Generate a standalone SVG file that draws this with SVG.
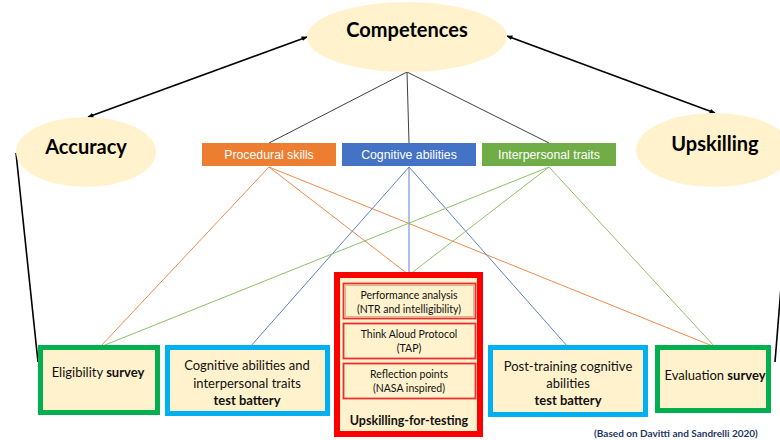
<svg xmlns="http://www.w3.org/2000/svg" width="780" height="440" viewBox="0 0 780 440">
<defs>
<marker id="ah" viewBox="0 0 10 10" refX="9" refY="5" markerWidth="6" markerHeight="6" orient="auto-start-reverse" markerUnits="userSpaceOnUse">
<path d="M0,1 L10,5 L0,9 z" fill="#000"/>
</marker>
<style>
.ell{fill:#FFF2CC;stroke:none}
.big{font-family:Lato,"Liberation Sans",sans-serif;font-weight:bold;font-size:20px;fill:#000;text-anchor:middle}
.cat{font-family:"Liberation Sans",Arial,sans-serif;font-size:12.3px;fill:#fff;text-anchor:middle}
.box{fill:#FFF2CC;stroke-width:5}
.grn{stroke:#00B050}
.cyn{stroke:#00B0F0}
.t{font-family:Lato,"Liberation Sans",sans-serif;font-size:13px;fill:#111;text-anchor:middle}
.s{font-family:Lato,"Liberation Sans",sans-serif;font-size:10.5px;fill:#111;text-anchor:middle}
.b{font-weight:bold}
.inner{fill:#FFF2CC;stroke:#E83030;stroke-width:1.8}
.conn line{fill:none}
.k{stroke:#404040;stroke-width:1}
.o{stroke:#F08A4B;stroke-width:1}
.bl{stroke:#5B82CC;stroke-width:1}
.g{stroke:#8CC168;stroke-width:1}
.blk{stroke:#000;stroke-width:1.6}
</style>
</defs>
<rect width="780" height="440" fill="#fff"/>

<g id="connectors" class="conn">
<line class="blk" x1="307" y1="37" x2="88" y2="117" marker-start="url(#ah)" marker-end="url(#ah)"/>
<line class="blk" x1="507" y1="36" x2="715" y2="113" marker-start="url(#ah)" marker-end="url(#ah)"/>
<line class="blk" x1="16" y1="153" x2="38" y2="362"/>
<line class="blk" x1="792" y1="150" x2="775" y2="362"/>
<line class="k" x1="407" y1="72" x2="269" y2="143"/>
<line class="k" x1="407" y1="72" x2="409" y2="143"/>
<line class="k" x1="407" y1="72" x2="549" y2="143"/>
<line class="o" x1="269" y1="167" x2="100" y2="347"/>
<line class="o" x1="269" y1="167" x2="409" y2="275"/>
<line class="o" x1="269" y1="167" x2="715" y2="347"/>
<line class="bl" x1="409" y1="167" x2="250" y2="347"/>
<line class="bl" x1="409" y1="167" x2="409" y2="275"/>
<line class="bl" x1="409" y1="167" x2="568" y2="347"/>
<line class="g" x1="549" y1="167" x2="100" y2="347"/>
<line class="g" x1="549" y1="167" x2="409" y2="275"/>
<line class="g" x1="549" y1="167" x2="715" y2="347"/>
</g>

<g id="competences">
<ellipse class="ell" cx="407" cy="37" rx="100" ry="35"/>
<text class="big" x="407" y="37">Competences</text>
</g>
<g id="accuracy">
<ellipse class="ell" cx="86" cy="152" rx="70" ry="35"/>
<text class="big" x="86" y="154">Accuracy</text>
</g>
<g id="upskilling">
<ellipse class="ell" cx="714" cy="150" rx="78" ry="37"/>
<text class="big" x="715" y="151">Upskilling</text>
</g>

<g id="procedural">
<rect x="202" y="143" width="134" height="23" fill="#ED7D31"/>
<text class="cat" x="269" y="159">Procedural skills</text>
</g>
<g id="cognitive">
<rect x="342" y="143" width="134" height="23" fill="#4472C4"/>
<text class="cat" x="409" y="159">Cognitive abilities</text>
</g>
<g id="interpersonal">
<rect x="482" y="143" width="134" height="23" fill="#70AD47"/>
<text class="cat" x="549" y="159">Interpersonal traits</text>
</g>

<g id="eligibility">
<rect class="box grn" x="40.5" y="347.5" width="117" height="65"/>
<text class="t" x="98" y="377">Eligibility <tspan class="b">survey</tspan></text>
</g>
<g id="cog-battery">
<rect class="box cyn" x="167.5" y="347.5" width="160" height="66"/>
<text class="t" x="247" y="370">Cognitive abilities and</text>
<text class="t" x="247" y="388">interpersonal traits</text>
<text class="t b" x="247" y="405">test battery</text>
</g>
<g id="upskilling-for-testing">
<rect x="337" y="275" width="143" height="159" fill="#FFF2CC" stroke="#FF0000" stroke-width="6"/>
<g id="performance">
<rect class="inner" x="343.5" y="283.5" width="132" height="35" stroke="#C84040"/>
<rect x="345.5" y="285.5" width="128" height="31" fill="none" stroke="#D9B890" stroke-width="1"/>
<text class="s" x="409" y="299">Performance analysis</text>
<text class="s" x="409" y="313">(NTR and intelligibility)</text>
</g>
<g id="tap">
<rect class="inner" x="343.5" y="323.5" width="132" height="35"/>
<text class="s" x="409" y="338">Think Aloud Protocol</text>
<text class="s" x="409" y="352">(TAP)</text>
</g>
<g id="reflection">
<rect class="inner" x="343.5" y="363.5" width="132" height="35"/>
<text class="s" x="409" y="378">Reflection points</text>
<text class="s" x="409" y="392">(NASA inspired)</text>
</g>
<text class="t b" x="409" y="425" style="font-size:12.5px">Upskilling-for-testing</text>
</g>
<g id="post-training">
<rect class="box cyn" x="490.5" y="347.5" width="155" height="67"/>
<text class="t" x="568" y="371">Post-training cognitive</text>
<text class="t" x="568" y="388">abilities</text>
<text class="t b" x="568" y="405">test battery</text>
</g>
<g id="evaluation">
<rect class="box grn" x="657.5" y="347.5" width="111" height="63"/>
<text class="t" x="715" y="380">Evaluation <tspan class="b">survey</tspan></text>
</g>

<text x="676" y="437" style="font-family:Lato,'Liberation Sans',sans-serif;font-size:10px;font-weight:bold;fill:#1F3864;text-anchor:middle">(Based on Davitti and Sandrelli 2020)</text>
</svg>
